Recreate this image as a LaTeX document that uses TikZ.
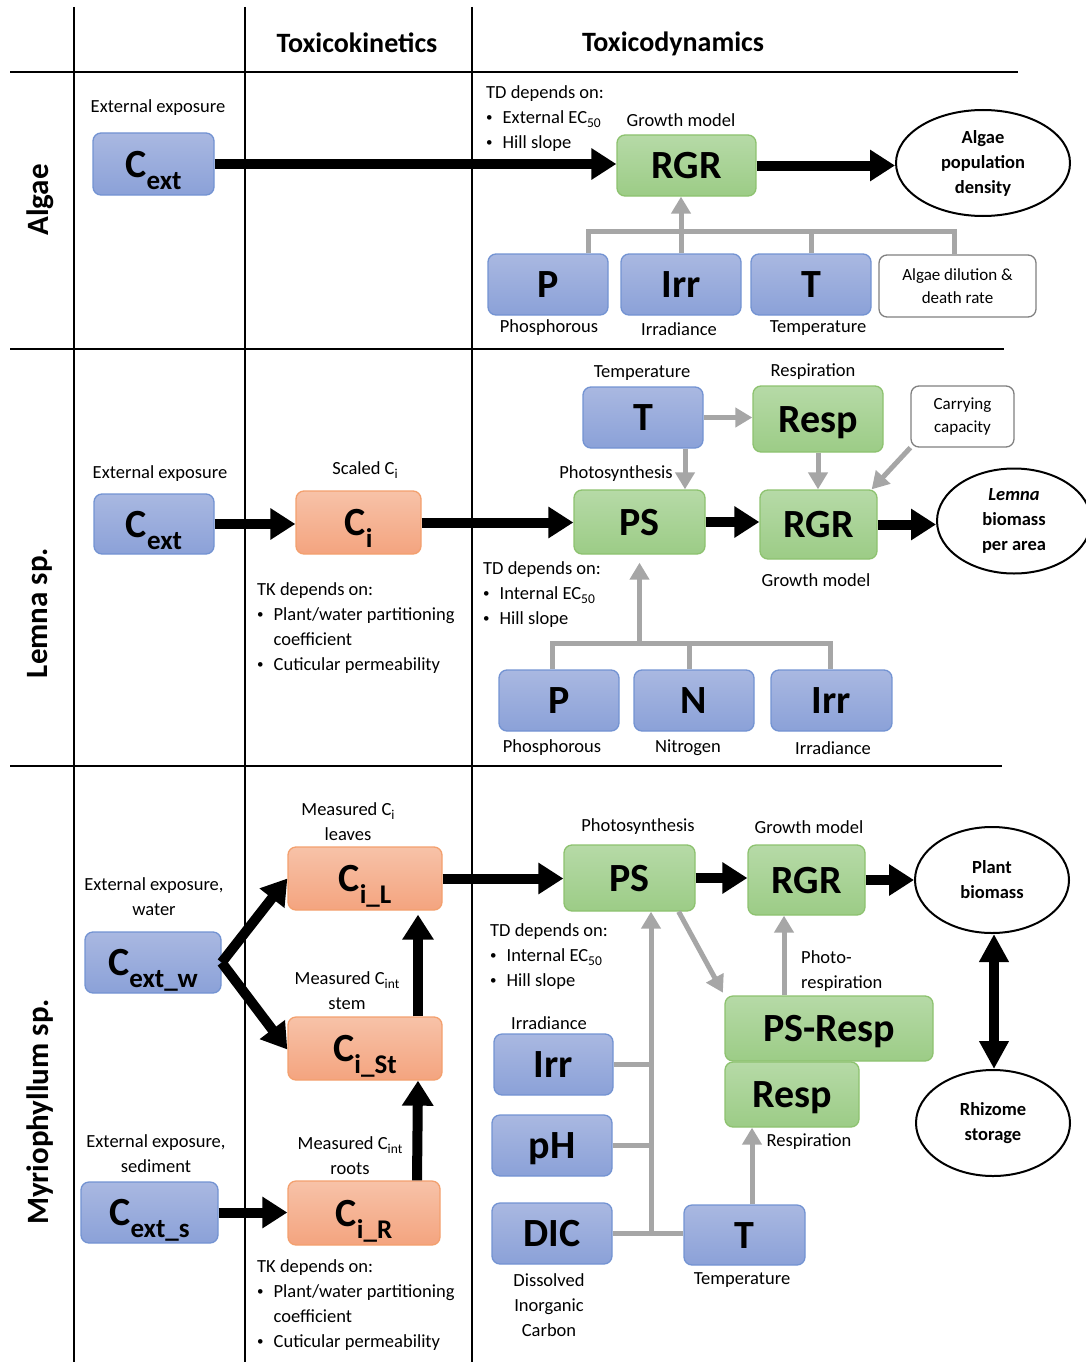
\documentclass[tikz,border=0pt]{standalone}
\usepackage{fontspec}
\setmainfont{Carlito}
\usetikzlibrary{arrows.meta,shapes.geometric}

\definecolor{bluetop}{HTML}{A9B8E1}
\definecolor{bluebot}{HTML}{8BA1D8}
\definecolor{blueline}{HTML}{7393D2}
\definecolor{greentop}{HTML}{B6DAA7}
\definecolor{greenbot}{HTML}{9CCC86}
\definecolor{greenline}{HTML}{8DC26F}
\definecolor{orangetop}{HTML}{F7C2A8}
\definecolor{orangebot}{HTML}{F4A47F}
\definecolor{orangeline}{HTML}{F3A06E}
\definecolor{linkgray}{HTML}{A6A6A6}
\definecolor{boxgray}{HTML}{808080}

% lowered subscript used inside the big box labels
\newcommand\lowsub[1]{\raisebox{-12pt}{\fontsize{27}{27}\selectfont #1}}
% small lowered subscript used in the running labels
\newcommand\smsub[1]{\raisebox{-4pt}{\fontsize{13.5}{13.5}\selectfont #1}}
\newcommand\itm{\raisebox{1.5pt}{\fontsize{13}{13}\selectfont\textbullet}\hspace{10pt}}
\newcommand\itmgap{\hphantom{\raisebox{1.5pt}{\fontsize{13}{13}\selectfont\textbullet}\hspace{10pt}}}

\tikzset{
  frame/.style={line width=2.5pt, draw=black},
  box/.style={rounded corners=8pt, line width=1.3pt, inner sep=0pt,
    text height=30pt, text depth=4pt, font=\bfseries\fontsize{40}{40}\selectfont},
  sz/.style 2 args={minimum width=#1, minimum height=#2},
  bluebox/.style={box, draw=blueline, top color=bluetop, bottom color=bluebot},
  greenbox/.style={box, draw=greenline, top color=greentop, bottom color=greenbot},
  orangebox/.style={box, draw=orangeline, top color=orangetop, bottom color=orangebot},
  whitebox/.style={rounded corners=8pt, line width=1.3pt, draw=boxgray, fill=white,
    inner sep=0pt, align=center, font=\fontsize{17}{23}\selectfont},
  ell/.style={ellipse, draw, line width=2pt, inner sep=0pt, align=center,
    font=\bfseries\fontsize{18.5}{25}\selectfont},
  lab/.style={inner sep=0pt, align=center, font=\fontsize{18.5}{25}\selectfont},
  lst/.style={inner sep=0pt, align=left, anchor=north west, font=\fontsize{18.5}{25}\selectfont},
  head/.style={inner sep=0pt, font=\bfseries\fontsize{28}{28}\selectfont},
  rowlab/.style={inner sep=0pt, rotate=90, font=\bfseries\fontsize{31}{31}\selectfont},
  barrow/.style={line width=10pt, -{Triangle[length=25pt,width=30pt]}},
  garrow/.style={line width=5pt, draw=linkgray, -{Triangle[length=17pt,width=19pt]}},
  gline/.style={line width=5pt, draw=linkgray},
}

\begin{document}
\begin{tikzpicture}[x=1pt, y=-1pt]
\useasboundingbox (0,0) rectangle (1086,1362);
\clip (0,0) rectangle (1086,1362);

% ---------- table frame ----------
\draw[frame] (74,7) -- (74,1362);
\draw[frame] (245,7) -- (245,1362);
\draw[frame] (472,7) -- (472,1362);
\draw[frame] (10,72) -- (1018,72);
\draw[frame] (10,349) -- (1004,349);
\draw[frame] (10,766) -- (1002,766);

\node[head] (hTK) at (357,43) {Toxicokinetics};
\node[head] (hTD) at (673,44) {Toxicodynamics};

\node[rowlab] (rowA) at (40,200) {Algae};
\node[rowlab] (rowL) at (40,613) {Lemna sp.};
\node[rowlab] (rowM) at (40,1112) {Myriophyllum sp.};

% ---------- Algae ----------
\node[lab] (aExt) at (158,108) {External exposure};
\node[bluebox, sz={121pt}{62pt}] (cextA) at (153.5,164) {C\lowsub{ext}};
\node[lst] (tdA) at (486,85) {TD depends on:\\\itm External EC\smsub{50}\\\itm Hill slope};
\node[lab] (aGrowth) at (681,120) {Growth model};
\node[greenbox, sz={139pt}{61pt}] (rgrA) at (686.5,165.5) {RGR};
\node[ell, minimum width=174pt, minimum height=106pt] (algPop) at (983,163) {Algae\\population\\density};
\node[bluebox, sz={120pt}{61pt}] (pA) at (548,284.5) {P};
\node[bluebox, sz={120pt}{61pt}] (irrA) at (681,284.5) {Irr};
\node[bluebox, sz={120pt}{61pt}] (tA) at (811,284.5) {T};
\node[whitebox, sz={157pt}{62pt}] (dil) at (957.5,286) {Algae dilution \&\\death rate};
\node[lab] (aP) at (549,328) {Phosphorous};
\node[lab] (aIrr) at (679,329) {Irradiance};
\node[lab] (aT) at (818,328) {Temperature};

\coordinate (busAL) at (588,231);
\coordinate (busAR) at (954,231);
\draw[gline] (pA.north -| busAL) -- (busAL) -- (busAR) -- (dil.north -| busAR);
\draw[gline] (tA.north) -- (tA.north |- busAL);
\draw[garrow] (irrA.north) -- (irrA.north |- rgrA.south);
\draw[barrow] (cextA.east) -- (cextA.east -| rgrA.west);
\draw[barrow] (rgrA.east) -- (rgrA.east -| algPop.west);

% ---------- Lemna ----------
\node[lab] (lExt) at (160,474) {External exposure};
\node[bluebox, sz={120pt}{60pt}] (cextL) at (154,524) {C\lowsub{ext}};
\node[lab] (lScaled) at (365,470) {Scaled C\smsub{i}};
\node[orangebox, sz={125pt}{63pt}] (ciL) at (358.5,522.5) {C\lowsub{i}};
\node[lst] (tkL) at (257,582) {TK depends on:\\\itm Plant/water partitioning\\\itmgap coefficient\\\itm Cuticular permeability};
\node[lab] (lTemp) at (642,373) {Temperature};
\node[bluebox, sz={120pt}{61pt}] (tL) at (643,417.5) {T};
\node[lab] (lResp) at (813,372) {Respiration};
\node[greenbox, sz={130pt}{66pt}] (respL) at (818,419) {Resp};
\node[whitebox, sz={103pt}{61pt}] (carry) at (962.5,416.5) {Carrying\\capacity};
\node[lab] (lPhoto) at (616,474) {Photosynthesis};
\node[greenbox, sz={131pt}{64pt}] (psL) at (639.5,522) {PS};
\node[greenbox, sz={117pt}{69pt}] (rgrL) at (818.5,524.5) {RGR};
\node[lab] (lGrowth) at (816,580) {Growth model};
\node[ell, minimum width=154pt, minimum height=105pt] (lemBio) at (1014,521) {\textit{Lemna}\\biomass\\per area};
\node[lst] (tdL) at (483,561) {TD depends on:\\\itm Internal EC\smsub{50}\\\itm Hill slope};
\node[bluebox, sz={120pt}{61pt}] (pL) at (559,700.5) {P};
\node[bluebox, sz={120pt}{61pt}] (nL) at (694,700.5) {N};
\node[bluebox, sz={121pt}{61pt}] (irrL) at (831.5,700.5) {Irr};
\node[lab] (lP) at (552,748) {Phosphorous};
\node[lab] (lN) at (688,748) {Nitrogen};
\node[lab] (lIrr) at (833,748) {Irradiance};

\draw[barrow] (cextL.east) -- (cextL.east -| ciL.west);
\draw[barrow] (ciL.east) -- (ciL.east -| psL.west);
\draw[barrow] (psL.east) -- (psL.east -| rgrL.west);
\draw[barrow] (rgrL.east) -- (rgrL.east -| lemBio.west);
\draw[garrow] (tL.east) -- (tL.east -| respL.west);
\draw[garrow] ([xshift=42pt]tL.south) -- ([xshift=42pt]tL.south |- psL.north);
\draw[garrow] (respL.south) -- (respL.south |- rgrL.north);
\draw[garrow] (carry.south west) -- ([xshift=-6pt]rgrL.north east);
\coordinate (busLL) at (552,643);
\coordinate (busLR) at (830,643);
\draw[gline] (pL.north -| busLL) -- (busLL) -- (busLR) -- (irrL.north -| busLR);
\draw[gline] (nL.north -| 689,0) -- (busLL -| 689,0);
\draw[garrow, shorten >=8pt] (busLL -| psL.south) -- (psL.south);

% ---------- Myriophyllum ----------
\node[lab] (mExtW) at (154,897) {External exposure,\\water};
\node[bluebox, sz={136pt}{61pt}] (cextW) at (153,962.5) {C\lowsub{ext\_w}};
\node[lab] (mExtS) at (156,1154) {External exposure,\\sediment};
\node[bluebox, sz={137pt}{61pt}] (cextS) at (149.5,1212.5) {C\lowsub{ext\_s}};
\node[lab] (mLeaves) at (348,822) {Measured C\smsub{i}\\leaves};
\node[orangebox, sz={154pt}{63pt}] (ciLf) at (365,878.5) {C\lowsub{i\_L}};
\node[lab] (mStem) at (347,991) {Measured C\smsub{int}\\stem};
\node[orangebox, sz={154pt}{63pt}] (ciSt) at (365,1048.5) {C\lowsub{i\_St}};
\node[lab] (mRoots) at (350,1156) {Measured C\smsub{int}\\roots};
\node[orangebox, sz={152pt}{64pt}] (ciR) at (364,1213) {C\lowsub{i\_R}};
\node[lst] (tkM) at (257,1259) {TK depends on:\\\itm Plant/water partitioning\\\itmgap coefficient\\\itm Cuticular permeability};

\node[lab] (mPhoto) at (638,827) {Photosynthesis};
\node[greenbox, sz={131pt}{66pt}] (psM) at (629.5,878) {PS};
\node[lab] (mGrowth) at (809,827) {Growth model};
\node[greenbox, sz={117pt}{70pt}] (rgrM) at (806.5,880) {RGR};
\node[ell, minimum width=154pt, minimum height=106pt] (plant) at (992,880) {Plant\\biomass};
\node[ell, minimum width=154pt, minimum height=106pt] (rhiz) at (993,1123) {Rhizome\\storage};
\node[lst] (tdM) at (490,923) {TD depends on:\\\itm Internal EC\smsub{50}\\\itm Hill slope};
\node[greenbox, sz={208pt}{65pt}] (psResp) at (829,1028.5) {PS-Resp};
\node[greenbox, sz={134pt}{65pt}] (respM) at (792,1094.5) {Resp};
\node[lab, align=left, anchor=west] (mPhotoResp) at (801,971) {Photo-\\respiration};
\node[lab] (mIrrLab) at (549,1023) {Irradiance};
\node[bluebox, sz={119pt}{61pt}] (irrM) at (553.5,1064.5) {Irr};
\node[bluebox, sz={120pt}{61pt}] (phM) at (552,1145.5) {pH};
\node[bluebox, sz={120pt}{61pt}] (dicM) at (552,1233.5) {DIC};
\node[lab] (mDIC) at (549,1305) {Dissolved\\Inorganic\\Carbon};
\node[bluebox, sz={121pt}{60pt}] (tM) at (744.5,1235) {T};
\node[lab] (mTemp) at (742,1280) {Temperature};
\node[lab] (mResp) at (809,1142) {Respiration};

\draw[barrow] (cextW.east) -- (ciLf.west);
\draw[barrow] (cextW.east) -- ([yshift=-1pt]ciSt.west);
\draw[barrow] (cextS.east) -- (cextS.east -| ciR.west);
\draw[barrow] ([xshift=53pt]ciR.north) -- ([xshift=53pt]ciSt.south);
\draw[barrow, shorten >=4pt] ([xshift=53pt]ciSt.north) -- ([xshift=53pt]ciLf.south);
\draw[barrow] (ciLf.east) -- (ciLf.east -| psM.west);
\draw[barrow] (psM.east) -- (psM.east -| rgrM.west);
\draw[barrow] (rgrM.east) -- (rgrM.east -| plant.west);
\draw[line width=10pt, {Triangle[length=28pt,width=28pt]}-{Triangle[length=28pt,width=28pt]}]
  (plant.south -| 994,0) -- (rhiz.north -| 994,0);

\coordinate (jM) at (651,1233.5);
\draw[gline] (irrM.east) -- (irrM.east -| jM);
\draw[gline] (phM.east) -- (phM.east -| jM);
\draw[gline] (dicM.east) -- (dicM.east -| tM.west);
\draw[garrow] (jM) -- (jM |- psM.south);
\draw[garrow, shorten >=3pt] ([xshift=-17pt]psM.south east) -- (psResp.north west);
\draw[garrow] ([xshift=-45pt]psResp.north) -- ([xshift=-45pt]psResp.north |- rgrM.south);
\draw[garrow] ([xshift=7.5pt]tM.north) -- ([xshift=7.5pt]tM.north |- respM.south);
\end{tikzpicture}
\end{document}
